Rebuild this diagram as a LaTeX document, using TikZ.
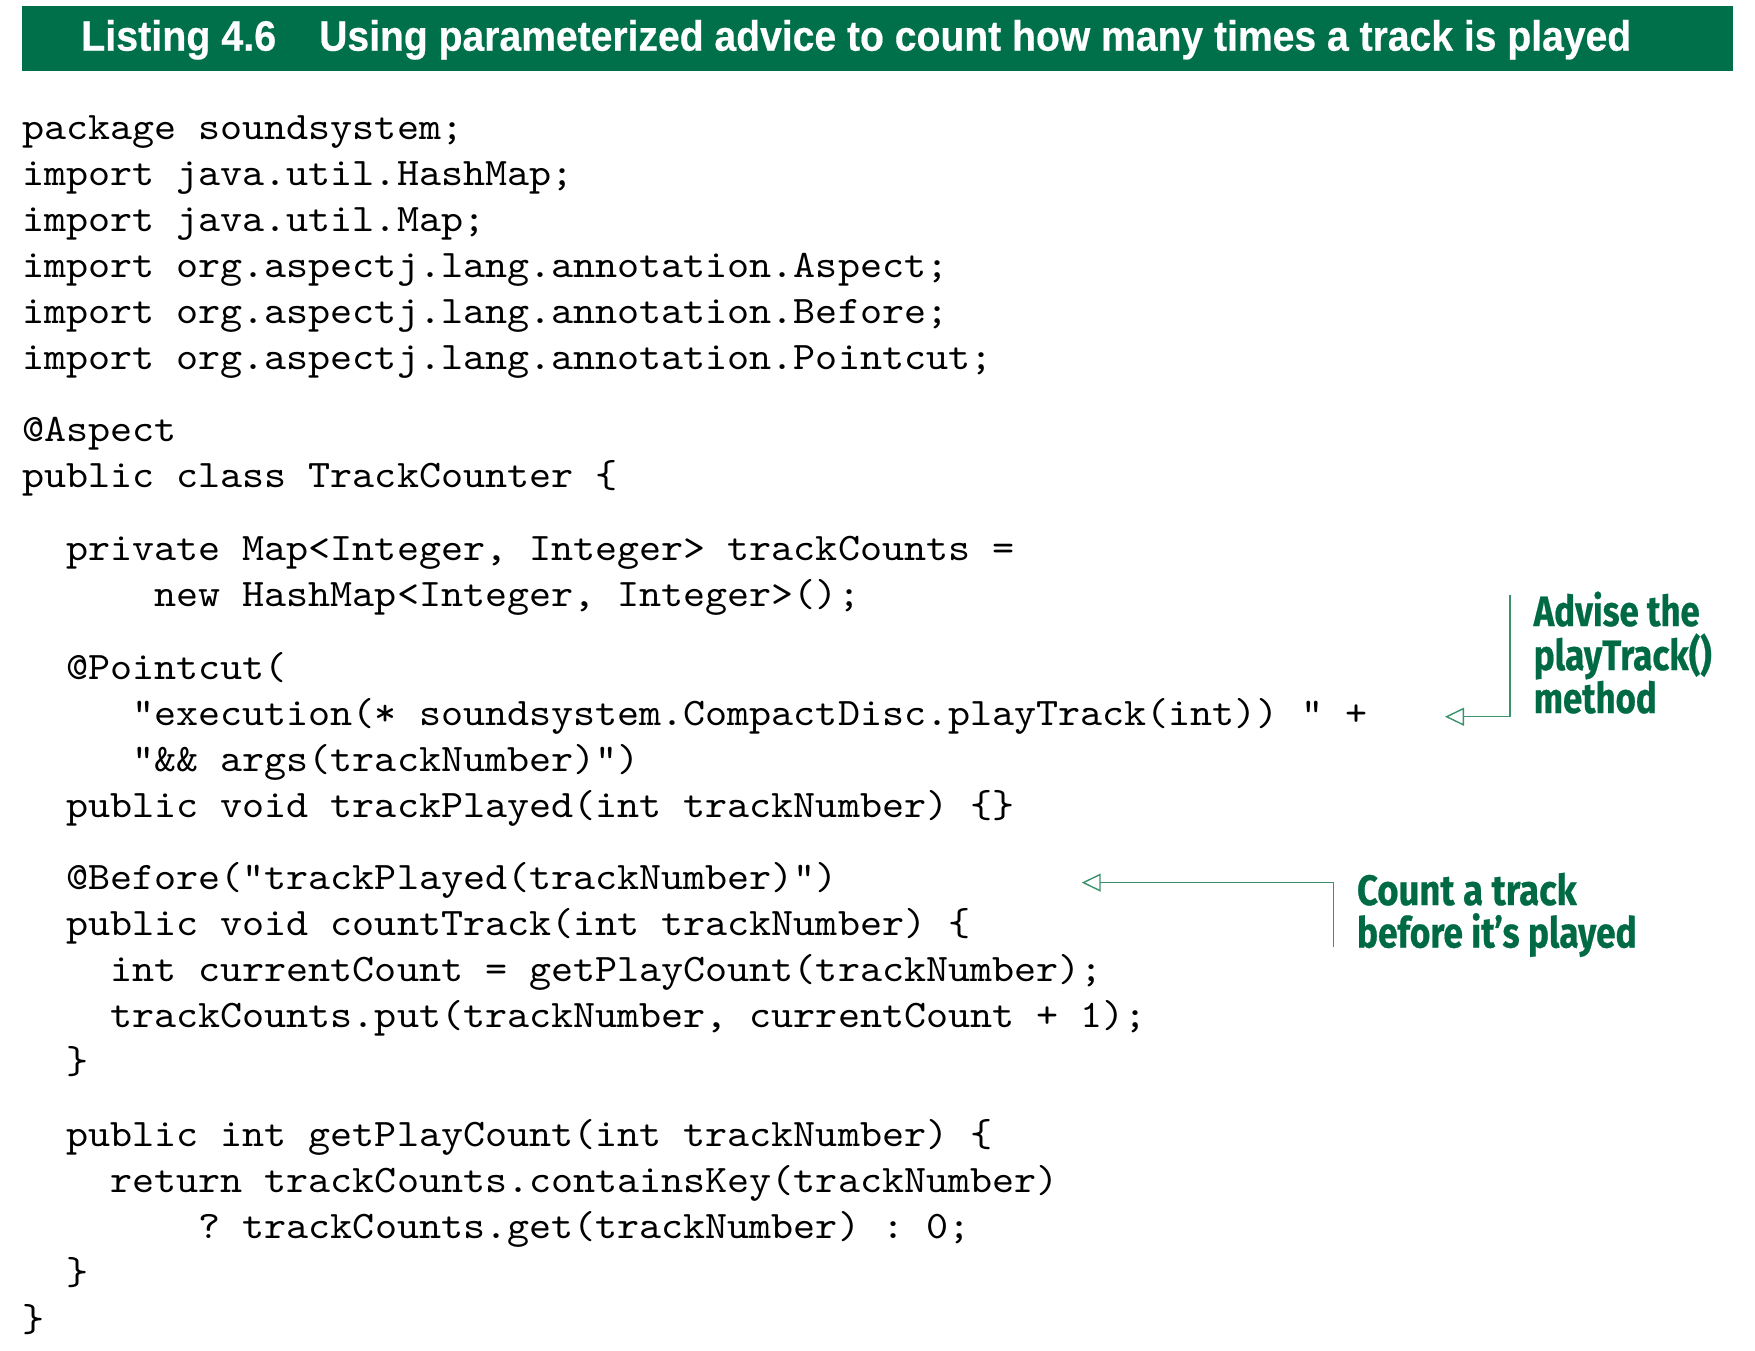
\documentclass[tikz,border=0pt]{standalone}
\usepackage{fontspec}
\setmonofont{lmmono10-regular.otf}[WordSpace={1,0,0}]
\newfontfamily\notefont{Fira Sans}[Ligatures=TeX, BoldFeatures={FakeBold=0.6}]
\newfontfamily\titlefnt{Liberation Sans}[BoldFeatures={FakeBold=0.5}]
\usetikzlibrary{arrows.meta}
\definecolor{bannergreen}{RGB}{0,112,74}
\definecolor{notegreen}{RGB}{0,106,68}
\definecolor{arrowgreen}{RGB}{60,145,108}
\newcommand\codeln[1]{\scalebox{1.0769}[1]{#1}}
\begin{document}
\begin{tikzpicture}[x=1pt,y=-1pt,
  codeline/.style={anchor=base west, inner sep=0pt, font=\ttfamily\fontsize{39}{39}\selectfont\frenchspacing},
  note/.style={anchor=base west, inner sep=0pt, text=notegreen, font=\notefont\bfseries\fontsize{42.5}{44}\selectfont},
  titletext/.style={anchor=base west, inner sep=0pt, text=white, font=\titlefnt\bfseries\fontsize{42.5}{44}\selectfont},
  callout/.style={draw=arrowgreen, line width=1.4pt, -{Triangle[open, length=19pt, width=18pt]}}]
\useasboundingbox (0,0) rectangle (1755,1350);
% banner
\node[fill=bannergreen, inner sep=0pt, minimum width=1711pt, minimum height=64.7pt, anchor=north west] (banner) at (22,6) {};
\node[titletext] (lbl) at (81,50.7) {\resizebox{195pt}{\height}{Listing 4.6}};
\node[titletext] (ttl) at (319,50.7) {\resizebox{1312pt}{\height}{Using parameterized advice to count how many times a track is played}};
% code
\node[codeline] (l1) at (22,139) {\codeln{package soundsystem;}};
\node[codeline] (l2) at (22,185) {\codeln{import java.util.HashMap;}};
\node[codeline] (l3) at (22,231) {\codeln{import java.util.Map;}};
\node[codeline] (l4) at (22,277) {\codeln{import org.aspectj.lang.annotation.Aspect;}};
\node[codeline] (l5) at (22,323) {\codeln{import org.aspectj.lang.annotation.Before;}};
\node[codeline] (l6) at (22,369) {\codeln{import org.aspectj.lang.annotation.Pointcut;}};
\node[codeline] (l7) at (22,441.7) {\codeln{@Aspect}};
\node[codeline] (l8) at (22,487.7) {\codeln{public class TrackCounter \{}};
\node[codeline] (l9) at (66.1,560.4) {\codeln{private Map<Integer, Integer> trackCounts =}};
\node[codeline] (l10) at (154.3,606.4) {\codeln{new HashMap<Integer, Integer>();}};
\node[codeline] (l11) at (66.1,679.1) {\codeln{@Pointcut(}};
\node[codeline] (l12) at (132.25,725.1) {\codeln{"execution(* soundsystem.CompactDisc.playTrack(int)) " +}};
\node[codeline] (l13) at (132.25,771.1) {\codeln{"\&\& args(trackNumber)")}};
\node[codeline] (l14) at (66.1,817.1) {\codeln{public void trackPlayed(int trackNumber) \{\}}};
\node[codeline] (l15) at (66.1,889.8) {\codeln{@Before("trackPlayed(trackNumber)")}};
\node[codeline] (l16) at (66.1,935.8) {\codeln{public void countTrack(int trackNumber) \{}};
\node[codeline] (l17) at (110.2,981.8) {\codeln{int currentCount = getPlayCount(trackNumber);}};
\node[codeline] (l18) at (110.2,1027.8) {\codeln{trackCounts.put(trackNumber, currentCount + 1);}};
\node[codeline] (l19) at (66.1,1073.8) {\codeln{\}}};
\node[codeline] (l20) at (66.1,1146.5) {\codeln{public int getPlayCount(int trackNumber) \{}};
\node[codeline] (l21) at (110.2,1192.5) {\codeln{return trackCounts.containsKey(trackNumber)}};
\node[codeline] (l22) at (198.4,1238.5) {\codeln{? trackCounts.get(trackNumber) : 0;}};
\node[codeline] (l23) at (66.1,1284.5) {\codeln{\}}};
\node[codeline] (l24) at (22,1331) {\codeln{\}}};
% annotation 1
\node[note] (n1a) at (1533.5,626) {\resizebox{166pt}{\height}{Advise the}};
\node[note] (n1b) at (1533.5,670) {\resizebox{178pt}{\height}{playTrack()}};
\node[note] (n1c) at (1533.5,713) {\resizebox{123pt}{\height}{method}};
\coordinate (a1top) at (1510,595);
\coordinate (a1tip) at (1445,716.7);
\draw[callout] (a1top) |- (a1tip);
% annotation 2
\node[note] (n2a) at (1356.8,905) {\resizebox{219.7pt}{\height}{Count a track}};
\node[note] (n2b) at (1356.8,947.5) {\resizebox{279.7pt}{\height}{before it’s played}};
\coordinate (a2bot) at (1333.3,947.3);
\coordinate (a2tip) at (1081.7,882.6);
\draw[callout] (a2bot) |- (a2tip);
\end{tikzpicture}
\end{document}
